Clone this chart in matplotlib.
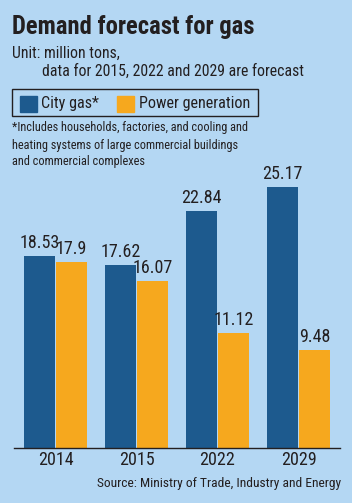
import numpy as np
import matplotlib
matplotlib.use("Agg")
import matplotlib.pyplot as plt
from matplotlib.patches import Rectangle

# ── Data ──────────────────────────────────────────────────────────────
YEARS = ["2014", "2015", "2022", "2029"]
CITY_GAS = [18.53, 17.62, 22.84, 25.17]
POWER_GEN = [17.9, 16.07, 11.12, 9.48]
CITY_LABELS = ["18.53", "17.62", "22.84", "25.17"]
POWER_LABELS = ["17.9", "16.07", "11.12", "9.48"]

BG = "#b4d7f3"
BLUE = "#1d5a8e"
ORANGE = "#f6a81e"
TXT = "#231f20"

plt.rcParams["font.family"] = ["Liberation Sans Narrow", "Roboto Condensed",
                               "Open Sans", "DejaVu Sans"]

W, H = 352, 503
fig = plt.figure(figsize=(W / 100, H / 100), dpi=100, facecolor=BG)

# axes: x from 14px to 340px, baseline at 448px
ax_top_px = 448 - 28 * 10.37
ax = fig.add_axes([14 / W, (H - 448) / H, 326 / W, (448 - ax_top_px) / H])
ax.set_facecolor(BG)

x = np.arange(len(YEARS))
bw, off = 0.377, 0.195
ax.bar(x - off, CITY_GAS, width=bw, color=BLUE)
ax.bar(x + off, POWER_GEN, width=bw, color=ORANGE)

for xi, v, s in zip(x, CITY_GAS, CITY_LABELS):
    ax.text(xi - off, v + 0.4, s, ha="center", va="bottom", fontsize=13, color=TXT)
for xi, v, s in zip(x, POWER_GEN, POWER_LABELS):
    ax.text(xi + off, v + 0.4, s, ha="center", va="bottom", fontsize=13, color=TXT)

ax.set_xlim(-0.512, 3.512)
ax.set_ylim(0, 28)
ax.set_xticks(x)
ax.set_xticklabels(YEARS, fontsize=13, color=TXT)
ax.tick_params(axis="x", length=0, pad=2)
ax.set_yticks([])
for s in ["top", "right", "left"]:
    ax.spines[s].set_visible(False)
ax.spines["bottom"].set_color(TXT)
ax.spines["bottom"].set_linewidth(1.0)

# ── Header texts ─────────────────────────────────────────────────────
def fy(py):
    return 1 - py / H

fig.text(12 / W, fy(27), "Demand forecast for gas", fontsize=17.7,
         fontweight="bold", color=TXT, va="center", ha="left")
fig.text(12 / W, fy(53), "Unit: million tons,", fontsize=11.3, color=TXT,
         va="center", ha="left")
fig.text(42 / W, fy(71), "data for 2015, 2022 and 2029 are forecast",
         fontsize=11.3, color=TXT, va="center", ha="left")

# legend box
fig.patches.append(Rectangle((12 / W, fy(116)), 246 / W, 27 / H,
                             transform=fig.transFigure, fill=False,
                             edgecolor=TXT, linewidth=1.0))
fig.patches.append(Rectangle((20 / W, fy(112)), 17 / W, 16 / H,
                             transform=fig.transFigure, color=BLUE))
fig.patches.append(Rectangle((117 / W, fy(112)), 17 / W, 16 / H,
                             transform=fig.transFigure, color=ORANGE))
fig.text(41 / W, fy(103), "City gas*", fontsize=11.6, color=TXT,
         va="center", ha="left")
fig.text(139 / W, fy(103), "Power generation", fontsize=11.6, color=TXT,
         va="center", ha="left")

notes = ["*Includes households, factories, and cooling and",
         "heating systems of large commercial buildings",
         "and commercial complexes"]
for i, line in enumerate(notes):
    fig.text(12 / W, fy(128 + i * 17), line, fontsize=8.8, color=TXT,
             va="center", ha="left")

fig.text(341 / W, fy(484), "Source: Ministry of Trade, Industry and Energy",
         fontsize=9.7, color=TXT, va="center", ha="right")

fig.savefig("out.png", dpi=100, facecolor=BG)
